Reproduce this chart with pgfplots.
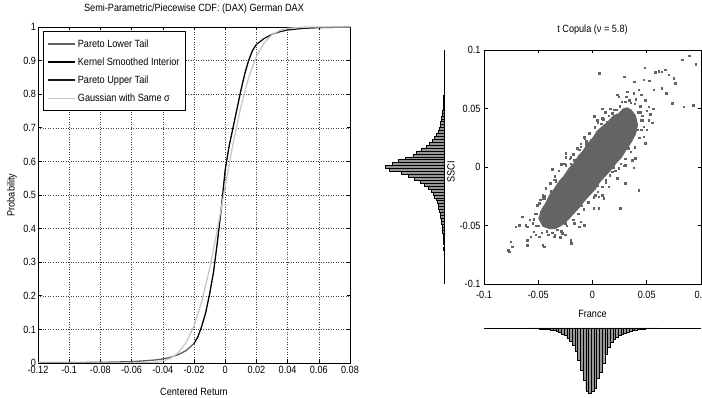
\documentclass[border=0pt]{standalone}
\usepackage{fontspec}
\setmainfont{Liberation Sans}[FakeStretch=0.87]
\usepackage{pgfplots}
\pgfplotsset{compat=1.18}
\definecolor{scat}{RGB}{100,100,100}
\definecolor{gauss}{RGB}{200,200,200}
\definecolor{lowt}{RGB}{95,95,95}
\definecolor{histf}{RGB}{150,150,150}
\newcommand{\ff}{\fontsize{10.5}{12}\selectfont}
\pgfplotsset{
  mstyle/.style={
    scale only axis,
    tick align=inside,
    major tick length=3.5pt,
    axis line style={line width=0.9pt},
    every tick/.style={black, line width=0.6pt},
    tick label style={font=\ff},
    label style={font=\ff},
    title style={font=\ff},
    /pgf/number format/assume math mode=true,
    /pgf/number format/fixed,
    scaled ticks=false,
  }
}
\begin{document}
\begin{tikzpicture}
% ---------------- left: CDF ----------------
\begin{axis}[mstyle, at={(38pt,35pt)}, anchor=south west, width=312pt, height=336pt,
  xmin=-0.12, xmax=0.08, ymin=0, ymax=1,
  xtick={-0.12,-0.1,-0.08,-0.06,-0.04,-0.02,0,0.02,0.04,0.06,0.08},
  ytick={0,0.1,0.2,0.3,0.4,0.5,0.6,0.7,0.8,0.9,1},
  yticklabel style={xshift=1.5pt},
  grid=major, major grid style={line width=0.4pt, black!75, dash pattern=on 1pt off 1.5pt},
  title={Semi-Parametric/Piecewise CDF: (DAX) German DAX},
  title style={at={(axis description cs:0.5,1)}, anchor=south, inner sep=0pt, yshift=7pt},
  xlabel={Centered Return},
  xlabel style={at={(axis description cs:0.5,0)}, anchor=north, inner sep=0pt, yshift=-25pt},
  ylabel={Probability},
  ylabel style={at={(axis description cs:-0.067,0.5)}, anchor=south, inner sep=0pt},
  legend style={at={(0.016,0.988)}, anchor=north west, draw=black, line width=0.8pt,
    font=\ff, row sep=5pt, inner xsep=4pt, inner ysep=6pt, cells={anchor=west}},
  legend image code/.code={\draw[#1, line width=1.5pt] (0pt,0pt) -- (27pt,0pt);},
]
\addplot[lowt, line width=1.3pt] coordinates {
(-0.12,0.001)(-0.1,0.0015)(-0.08,0.002)(-0.06,0.004)(-0.05,0.007)(-0.045,0.009)
(-0.04,0.012)(-0.035,0.017)(-0.03,0.025)(-0.025,0.037)(-0.02,0.058)};
\addlegendentry{Pareto Lower Tail}
\addplot[black, line width=1.3pt] coordinates {
(-0.02,0.058)(-0.0175,0.078)(-0.015,0.11)(-0.0125,0.15)(-0.01,0.205)(-0.0075,0.27)
(-0.005,0.36)(-0.0025,0.46)(0,0.575)(0.0025,0.645)(0.005,0.70)(0.0075,0.755)
(0.01,0.81)(0.0125,0.86)(0.015,0.90)(0.0175,0.93)(0.02,0.948)};
\addlegendentry{Kernel Smoothed Interior}
\addplot[black!90, line width=1.3pt] coordinates {
(0.02,0.948)(0.025,0.966)(0.03,0.978)(0.035,0.986)(0.04,0.991)(0.05,0.996)
(0.06,0.998)(0.07,0.999)(0.08,1)};
\addlegendentry{Pareto Upper Tail}
\addplot[gauss, line width=1.3pt] coordinates {
(-0.12,0)(-0.06,0.0001)(-0.05,0.0005)(-0.045,0.0023)(-0.04,0.006)(-0.035,0.014)
(-0.03,0.031)(-0.025,0.061)(-0.02,0.11)(-0.015,0.184)(-0.01,0.281)(-0.005,0.397)
(0,0.526)(0.005,0.652)(0.01,0.761)(0.015,0.849)(0.02,0.912)(0.025,0.953)
(0.03,0.977)(0.035,0.99)(0.04,0.996)(0.05,0.9995)(0.06,1)(0.08,1)};
\addlegendentry{Gaussian with Same σ}
\end{axis}
% ---------------- right: scatter ----------------
\begin{axis}[mstyle, at={(484pt,114pt)}, anchor=south west, width=217pt, height=234pt,
  xmin=-0.1, xmax=0.1, ymin=-0.1, ymax=0.1,
  xtick={-0.1,-0.05,0,0.05,0.1}, ytick={-0.1,-0.05,0,0.05,0.1},
  xticklabel style={yshift=-4pt},
  title={t Copula (ν = 5.8)},
  title style={at={(axis description cs:0.5,1)}, anchor=south, inner sep=0pt, yshift=9pt},
  xlabel={France},
  xlabel style={at={(axis description cs:0.5,0)}, anchor=north, inner sep=0pt, yshift=-26pt},
  ylabel={SSCI},
  ylabel style={at={(axis description cs:-0.152,0.48)}, anchor=center, inner sep=0pt},
]
\addplot[fill=scat, draw=none] coordinates {
(-0.050,-0.044)(-0.047,-0.036)(-0.043,-0.030)(-0.040,-0.024)(-0.036,-0.019)(-0.031,-0.012)
(-0.027,-0.008)(-0.022,-0.001)(-0.017,0.004)(-0.013,0.010)(-0.009,0.014)(-0.005,0.020)
(0.000,0.025)(0.004,0.031)(0.009,0.035)(0.014,0.039)(0.019,0.044)(0.024,0.046)
(0.028,0.050)(0.032,0.051)(0.036,0.049)
(0.040,0.044)(0.042,0.036)(0.040,0.028)(0.036,0.021)(0.031,0.014)(0.027,0.008)
(0.022,0.003)(0.017,-0.003)(0.012,-0.008)(0.007,-0.013)(0.003,-0.019)(-0.002,-0.024)
(-0.007,-0.029)(-0.012,-0.035)(-0.017,-0.040)(-0.022,-0.045)(-0.028,-0.050)
(-0.034,-0.053)(-0.040,-0.053)(-0.046,-0.051)} -- cycle;
\addplot[only marks, mark=square*, mark size=0.75pt, scat] coordinates {
(0.006,0.080)(0.048,0.085)(0.029,0.077)(0.058,0.081)(0.061,0.082)(0.064,0.0815)(0.067,0.083)
(0.070,0.079)(0.075,0.076)(0.076,0.0716)(0.0826,0.0915)(0.089,0.095)(0.095,0.088)
(0.0386,0.073)(0.047,0.0744)(0.0524,0.0736)(0.064,0.0673)(0.0565,0.066)(0.0678,0.063)
(0.0733,0.0545)(0.084,0.0516)(0.093,0.053)(0.0518,0.0516)(0.0487,0.057)(0.0226,0.0616)
(0.024,0.060)(0.0318,0.0644)(0.038,0.063)(0.0426,0.066)(0.045,0.0616)(0.0088,0.050)
(0.0119,0.047)(0.0165,0.050)(0.018,0.046)(0.021,0.0488)(0.0011,0.043)(0.0042,0.040)
(0.0088,0.0417)(0.0134,0.0388)(0.047,0.0345)(0.050,0.0317)(0.047,0.026)(0.0487,0.0203)
(0.0395,0.0075)(0.0365,0.006)(0.0303,0.0017)
(0.035,0.055)(0.04,0.058)(0.044,0.052)(0.05,0.048)(0.053,0.045)(0.056,0.05)(0.046,0.044)
(0.042,0.047)(0.027,0.056)(0.031,0.06)(0.036,0.045)(0.052,0.04)(0.055,0.038)(0.045,0.04)
(-0.0078,0.0254)(-0.0016,0.023)(-0.0247,0.0117)(-0.0247,0.0083)(-0.0109,0.0174)
(-0.0124,0.0146)(-0.0062,0.0194)(-0.0047,0.0146)(-0.0287,0.0026)(-0.020,0.0083)
(-0.017,0.006)(-0.0247,0.0017)(0.0014,0.0436)
(-0.037,-0.002)(-0.0355,-0.011)(-0.034,-0.0124)(-0.0447,-0.025)(-0.046,-0.0268)
(-0.0385,-0.0205)(-0.0647,-0.0425)(-0.0616,-0.0496)(-0.060,-0.051)(-0.0708,-0.0511)
(-0.0677,-0.0496)(-0.054,-0.0446)(-0.0524,-0.058)(-0.0493,-0.0596)(-0.060,-0.0624)
(-0.060,-0.0667)(-0.0754,-0.0638)(-0.0739,-0.068)(-0.077,-0.0724)(-0.0779,-0.071)
(-0.046,-0.0668)(-0.0447,-0.068)(-0.020,-0.0624)(-0.0195,-0.0653)(-0.017,-0.048)
(-0.0124,-0.051)(-0.0109,-0.0467)(-0.0078,-0.0496)(-0.0278,-0.0567)(-0.0355,-0.0596)
(-0.0324,-0.0538)(-0.054,-0.0554)(-0.057,-0.0596)(-0.0416,-0.0353)(-0.0477,-0.0382)
(-0.0508,-0.0325)(-0.0431,-0.041)(-0.046,-0.0438)(-0.040,-0.0467)(-0.0355,-0.0438)
(-0.0293,-0.0153)(-0.034,-0.021)(-0.037,-0.0281)
(-0.05,-0.05)(-0.055,-0.048)(-0.042,-0.055)(-0.038,-0.05)(-0.03,-0.06)(-0.025,-0.058)
(-0.048,-0.028)(-0.052,-0.04)(-0.058,-0.045)
(0.038,-0.0006)(0.0294,0.0012)(0.0226,-0.0096)(0.0303,-0.0139)(0.0426,-0.020)
(0.015,-0.0168)(0.012,-0.011)(0.0088,-0.0239)(0.0057,-0.0353)(0.0257,-0.0353)
(0.0011,-0.0353)(0.0027,-0.024)(0.0057,-0.0254)(0.0103,-0.0267)(0.018,-0.004)(0.024,-0.001)
(-0.053,-0.040)(-0.049,-0.031)(-0.046,-0.024)(-0.043,-0.018)(-0.039,-0.014)(-0.035,-0.008)
(-0.031,-0.003)(-0.026,0.003)(-0.021,0.007)(-0.018,0.011)(-0.014,0.016)(-0.011,0.020)
(-0.007,0.024)(-0.003,0.029)(0.002,0.034)(0.005,0.038)(0.010,0.041)(0.015,0.044)
(0.020,0.049)(0.025,0.052)(0.030,0.056)(0.034,0.057)(0.039,0.054)
(0.044,0.047)(0.046,0.040)(0.045,0.032)(0.043,0.025)(0.039,0.017)(0.035,0.013)
(0.030,0.007)(0.026,0.003)(0.021,-0.003)(0.016,-0.007)(0.012,-0.013)(0.009,-0.017)
(0.005,-0.021)(0.001,-0.026)(-0.004,-0.030)(-0.008,-0.036)(-0.013,-0.040)(-0.018,-0.045)
(-0.024,-0.050)(-0.029,-0.055)(-0.035,-0.058)(-0.041,-0.058)(-0.047,-0.056)(-0.052,-0.050)
(-0.044,-0.027)(-0.034,-0.011)(-0.020,0.003)(-0.006,0.022)(0.008,0.037)(0.022,0.049)
(0.041,0.032)(0.033,0.016)(0.019,0.000)(0.005,-0.016)(-0.010,-0.033)(-0.025,-0.048)
(-0.037,-0.056)};
\end{axis}
% ---------------- left marginal histogram (SSCI) ----------------
\begin{axis}[scale only axis, at={(384pt,114pt)}, anchor=south west, width=60pt, height=234pt,
  xmin=0, xmax=60, x dir=reverse, ymin=-0.1, ymax=0.1, hide axis, clip=false]
\addplot[xbar, bar width=0.0025, fill=histf, draw=black, line width=0.4pt] coordinates {
(0.5,0.06)(0.6,0.0575)(0.8,0.055)(1.0,0.0525)(1.2,0.05)(1.5,0.0475)(2,0.045)(2.5,0.0425)
(3,0.04)(3.5,0.0375)(4,0.035)(5,0.0325)(6,0.03)(7.5,0.0275)(9.5,0.025)(12,0.0225)
(14.5,0.02)(18,0.0175)(23,0.015)(28,0.0125)(31,0.01)(39,0.0075)(46,0.005)(52,0.0025)
(59,0)(55,-0.0025)(43,-0.005)(36,-0.0075)(30,-0.01)(24,-0.0125)(20,-0.015)(16,-0.0175)
(13,-0.02)(11,-0.0225)(9.5,-0.025)(8,-0.0275)(7,-0.03)(6,-0.0325)(5.5,-0.035)(4.5,-0.0375)
(4,-0.04)(3.5,-0.0425)(3,-0.045)(2.5,-0.0475)(2,-0.05)(1.7,-0.0525)(1.5,-0.055)(1.2,-0.0575)
(1,-0.06)(0.8,-0.0625)(0.7,-0.065)(0.5,-0.07)(0.3,-0.075)};
\addplot[black, line width=0.8pt] coordinates {(0,-0.1)(0,0.1)};
\end{axis}
% ---------------- bottom marginal histogram (France) ----------------
\begin{axis}[scale only axis, at={(484pt,5pt)}, anchor=south west, width=217pt, height=65pt,
  xmin=-0.1, xmax=0.1, ymin=0, ymax=65, y dir=reverse, hide axis, clip=false]
\addplot[ybar, bar width=0.0025, fill=histf, draw=black, line width=0.4pt] coordinates {
(-0.06,0.3)(-0.0575,0.4)(-0.055,0.5)(-0.0525,0.6)(-0.05,0.7)(-0.0475,0.8)(-0.045,1)
(-0.0425,1.2)(-0.04,1.5)(-0.0375,2)(-0.035,2.5)(-0.0325,3)(-0.03,4.5)(-0.0275,6)
(-0.025,7.5)(-0.0225,10)(-0.02,13)(-0.0175,17)(-0.015,23)(-0.0125,32)(-0.01,42)
(-0.0075,52)(-0.005,63)(-0.0025,65)(0,63)(0.0025,60)(0.005,50)(0.0075,44)(0.01,35)
(0.0125,26)(0.015,19)(0.0175,14)(0.02,11)(0.0225,9)(0.025,7)(0.0275,6)(0.03,5)
(0.0325,4)(0.035,3)(0.0375,2.5)(0.04,2)(0.0425,1.5)(0.045,1)(0.0475,1)(0.05,0.7)
(0.0525,0.6)(0.055,0.5)(0.0575,0.4)(0.06,0.3)};
\addplot[black, line width=0.8pt] coordinates {(-0.1,0)(0.1,0)};
\end{axis}
\pgfresetboundingbox
\path[use as bounding box] (0pt,0pt) rectangle (702pt,398pt);
\end{tikzpicture}
\end{document}
